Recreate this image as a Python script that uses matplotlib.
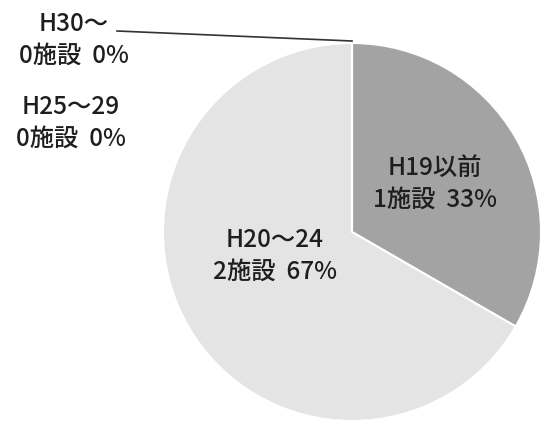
import matplotlib
matplotlib.use("Agg")
import matplotlib.pyplot as plt

plt.rcParams['font.family'] = ['Noto Sans CJK JP', 'DejaVu Sans']

# data (clockwise from 12 o'clock)
labels = ["H19以前", "H20～24", "H25～29", "H30～"]
counts = [1, 2, 0, 0]
colors = ["#a3a3a3", "#e4e4e4", "#d0d0d0", "#c0c0c0"]

W, H = 541, 426
fig = plt.figure(figsize=(W / 100, H / 100), dpi=100)
ax = fig.add_axes([0, 0, 1, 1])

cx, cy, r = 352, H - 232, 189
ax.pie(counts, colors=colors, startangle=90, counterclock=False,
       center=(cx, cy), radius=r, frame=True,
       wedgeprops=dict(edgecolor="white", linewidth=1.5))
ax.set_xlim(0, W)
ax.set_ylim(0, H)
ax.set_aspect("equal")
ax.axis("off")

total = sum(counts)
def lab(i):
    pct = round(counts[i] / total * 100)
    return f"{labels[i]}\n{counts[i]}施設  {pct}%"

# label positions (pixel coords from top)
pos = [(435, 184), (275, 256), (71, 123), (74, 40)]
for i, (x, y) in enumerate(pos):
    ax.text(x, H - y, lab(i), ha="center", va="center", fontsize=17.5,
            color="#1e1e1e", linespacing=1.3, fontweight="medium")

# leader line for the H30～ label
ax.plot([117, 352], [H - 31, H - 41], color="#333333", lw=1.2)

fig.savefig("out.png", dpi=100)
